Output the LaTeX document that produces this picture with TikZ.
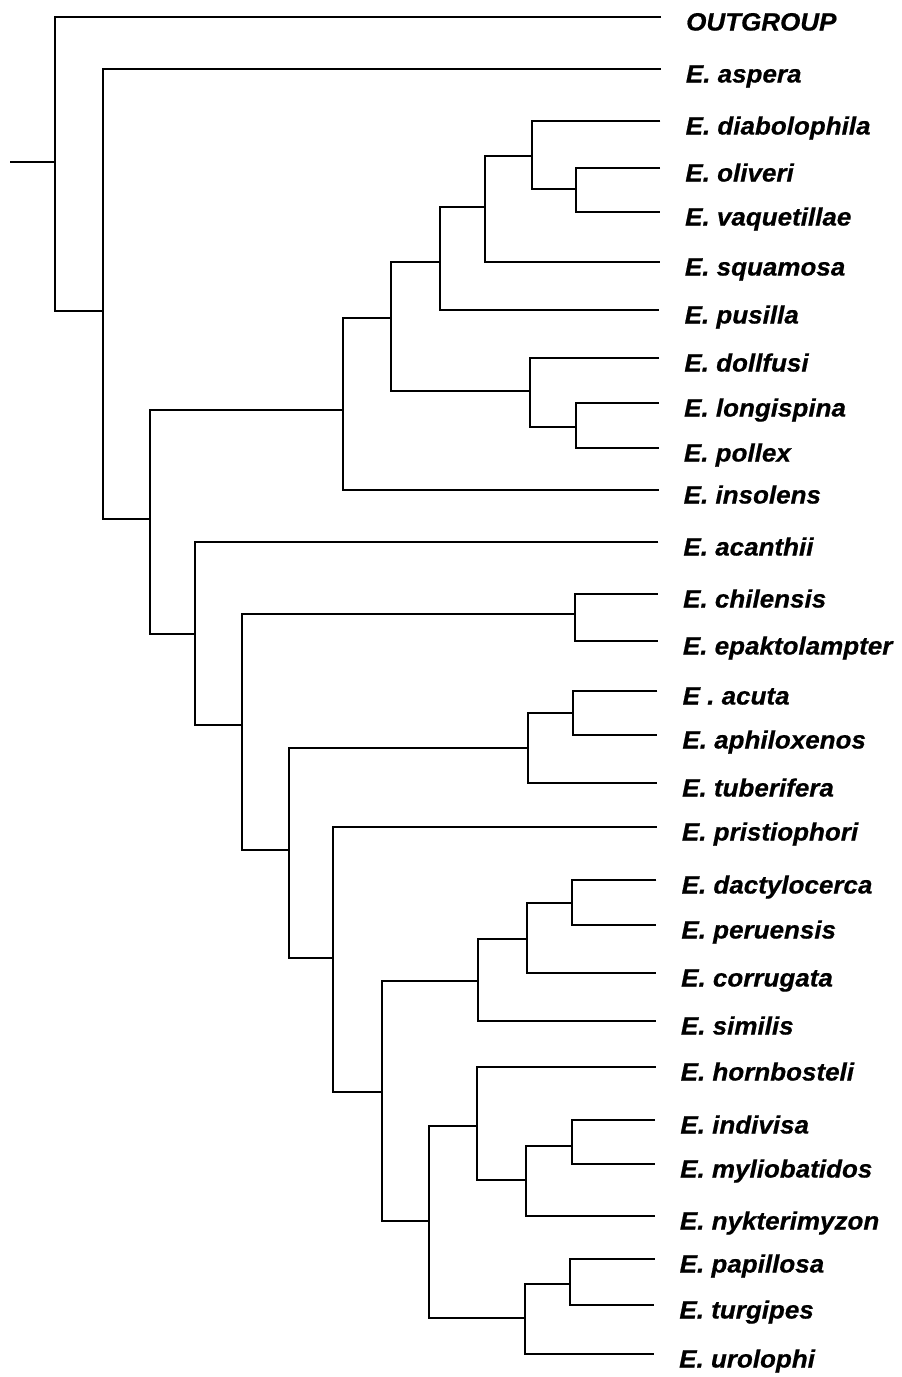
\documentclass[tikz,border=0pt]{standalone}
\usepackage{fontspec}
\newfontfamily\labfont[FakeStretch=1.04,FakeBold=0.6]{Liberation Sans}
\begin{document}
\begin{tikzpicture}[x=1pt,y=-1pt,
  branch/.style={line width=1.8pt},
  lab/.style={anchor=base west, inner sep=0pt, font=\labfont\bfseries\itshape\fontsize{25}{25}\selectfont}]
\useasboundingbox[fill=white] (0,0) rectangle (902,1377);
% leaves
\foreach \n/\y/\t in {
  1/17/OUTGROUP, 2/69/E. aspera, 3/121/E. diabolophila, 4/168/E. oliveri,
  5/212/E. vaquetillae, 6/262/E. squamosa, 7/310/E. pusilla, 8/358/E. dollfusi,
  9/403/E. longispina, 10/448/E. pollex, 11/490/E. insolens, 12/542/E. acanthii,
  13/594/E. chilensis, 14/641/E. epaktolampter, 15/691/E . acuta, 16/735/E. aphiloxenos,
  17/783/E. tuberifera, 18/827/E. pristiophori, 19/880/E. dactylocerca, 20/925/E. peruensis,
  21/973/E. corrugata, 22/1021/E. similis, 23/1067/E. hornbosteli, 24/1120/E. indivisa,
  25/1164/E. myliobatidos, 26/1216/E. nykterimyzon, 27/1259/E. papillosa,
  28/1305/E. turgipes, 29/1354/E. urolophi} {
  \pgfmathsetmacro\xe{661-7*(\y-17)/1337}
  \coordinate (l\n) at (\xe,\y);
  \node[lab] (t\n) at (\xe+25,\y+13.5) {\t};
}
% internal nodes
\coordinate (root) at (10,162);
\coordinate (A) at (55,162);
\coordinate (B) at (103,311);
\coordinate (C) at (150,519);
\coordinate (D) at (343,410);
\coordinate (F) at (391,318);
\coordinate (G) at (440,262);
\coordinate (I) at (485,207);
\coordinate (J) at (532,156);
\coordinate (K) at (576,189);
\coordinate (H) at (530,391);
\coordinate (L) at (576,427);
\coordinate (E) at (195,634);
\coordinate (M) at (242,725);
\coordinate (N) at (575,614);
\coordinate (O) at (289,850);
\coordinate (P) at (528,748);
\coordinate (R) at (573,713);
\coordinate (Q) at (333,958);
\coordinate (S) at (382,1092);
\coordinate (T) at (478,981);
\coordinate (V) at (527,939);
\coordinate (W) at (572,903);
\coordinate (U) at (429,1221);
\coordinate (X) at (477,1126);
\coordinate (Z) at (526,1180);
\coordinate (AA) at (572,1146);
\coordinate (Y) at (525,1318);
\coordinate (BB) at (570,1284);
% branches
\draw[branch] (root) -- (A);
\draw[branch] (l1) -| (A) |- (B);
\draw[branch] (l2) -| (B) |- (C);
\draw[branch] (D) -| (C) |- (E);
\draw[branch] (F) -| (D) |- (l11);
\draw[branch] (G) -| (F) |- (H);
\draw[branch] (I) -| (G) |- (l7);
\draw[branch] (J) -| (I) |- (l6);
\draw[branch] (l3) -| (J) |- (K);
\draw[branch] (l4) -| (K) |- (l5);
\draw[branch] (l8) -| (H) |- (L);
\draw[branch] (l9) -| (L) |- (l10);
\draw[branch] (l12) -| (E) |- (M);
\draw[branch] (N) -| (M) |- (O);
\draw[branch] (l13) -| (N) |- (l14);
\draw[branch] (P) -| (O) |- (Q);
\draw[branch] (R) -| (P) |- (l17);
\draw[branch] (l15) -| (R) |- (l16);
\draw[branch] (l18) -| (Q) |- (S);
\draw[branch] (T) -| (S) |- (U);
\draw[branch] (V) -| (T) |- (l22);
\draw[branch] (W) -| (V) |- (l21);
\draw[branch] (l19) -| (W) |- (l20);
\draw[branch] (X) -| (U) |- (Y);
\draw[branch] (l23) -| (X) |- (Z);
\draw[branch] (AA) -| (Z) |- (l26);
\draw[branch] (l24) -| (AA) |- (l25);
\draw[branch] (BB) -| (Y) |- (l29);
\draw[branch] (l27) -| (BB) |- (l28);
\end{tikzpicture}
\end{document}
